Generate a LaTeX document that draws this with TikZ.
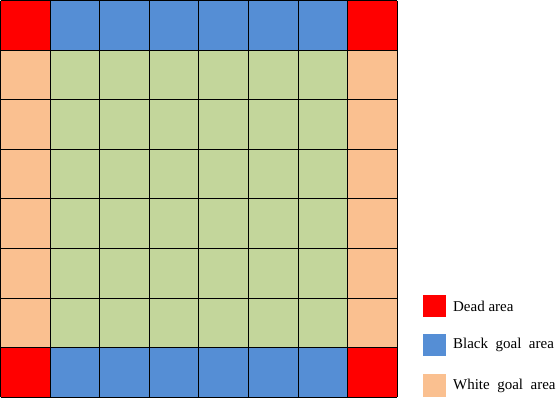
\documentclass[tikz,border=0pt]{standalone}
\usepackage{fontspec}
\setmainfont{Liberation Serif}
\usetikzlibrary{positioning}

\definecolor{deadred}{HTML}{FF0000}
\definecolor{blackgoal}{HTML}{558ED5}
\definecolor{whitegoal}{HTML}{FAC090}
\definecolor{boardgreen}{HTML}{C3D69B}

\begin{document}
\begin{tikzpicture}[x=1pt, y=-1pt,
    legbox/.style={draw=none, minimum size=22.5pt, inner sep=0pt},
    legtext/.style={inner sep=0pt, font=\fontsize{15}{18}\selectfont, anchor=west}]
    \useasboundingbox (0,0) rectangle (558,400);
    \def\cs{49.6}

    % Board areas
    \begin{scope}[shift={(0.5,0.5)}]
        \fill[boardgreen] (\cs,\cs) rectangle (7*\cs,7*\cs);
        \fill[blackgoal] (\cs,0) rectangle (7*\cs,\cs);
        \fill[blackgoal] (\cs,7*\cs) rectangle (7*\cs,8*\cs);
        \fill[whitegoal] (0,\cs) rectangle (\cs,7*\cs);
        \fill[whitegoal] (7*\cs,\cs) rectangle (8*\cs,7*\cs);
        \foreach \x/\y in {0/0, 7/0, 0/7, 7/7}
            \fill[deadred] (\x*\cs,\y*\cs) rectangle ++(\cs,\cs);

        % Grid lines
        \foreach \k in {0,...,8} {
            \draw[line width=0.9pt] (\k*\cs,0) -- (\k*\cs,8*\cs);
            \draw[line width=0.9pt] (0,\k*\cs) -- (8*\cs,\k*\cs);
        }
    \end{scope}

    % Legend
    \node[legbox, fill=deadred] (dead) at (434.5,306) {};
    \node[legbox, fill=blackgoal] (black) at (434.5,345) {};
    \node[legbox, fill=whitegoal] (white) at (434.5,385.5) {};
    \node[legtext, right=7pt of dead] (deadlabel) {Dead area};
    \node[legtext, right=7pt of black] (blacklabel) {Black\ \ goal\ \ area};
    \node[legtext, right=7pt of white] (whitelabel) {White\ \ goal\ \ area};
\end{tikzpicture}
\end{document}
